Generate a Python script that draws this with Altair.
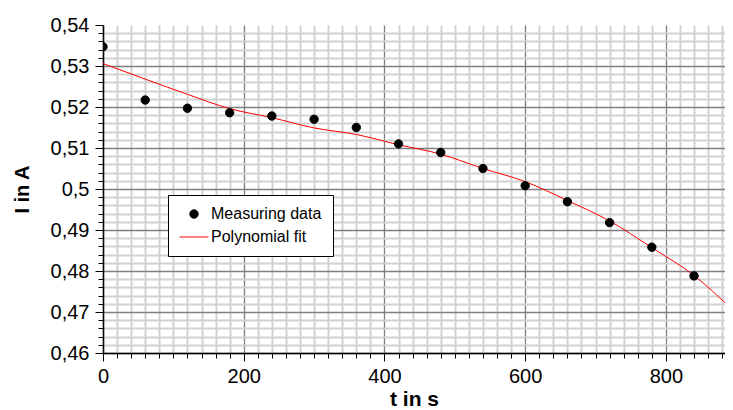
import altair as alt
import pandas as pd

# Measured values
t_meas = [0, 60, 120, 180, 240, 300, 360, 420, 480, 540, 600, 660, 720, 780, 840]
i_meas = [0.5347, 0.5217, 0.5197, 0.5186, 0.5178, 0.5170, 0.5150, 0.5110,
          0.5089, 0.5050, 0.5008, 0.4969, 0.4918, 0.4858, 0.4788]

# Polynomial fit curve
t_fit = [0, 60, 120, 180, 240, 300, 360, 420, 480, 540, 600, 660, 720, 780, 840, 896]
i_fit = [0.5306, 0.5268, 0.5231, 0.5196, 0.5174, 0.5149, 0.5133, 0.5108,
         0.5085, 0.5050, 0.5018, 0.4972, 0.4922, 0.4857, 0.4789, 0.4703]

series_names = ["Measuring data", "Polynomial fit"]
series_colors = ["black", "red"]

# tick positions (minor + major)
x_ticks = list(range(0, 900, 20))
y_ticks = [round(0.46 + k * 0.002, 3) for k in range(41)]

meas = pd.DataFrame({"t": t_meas, "I": i_meas, "series": series_names[0]})
fit = pd.DataFrame({"t": t_fit, "I": i_fit})

FONT = "Liberation Sans"
x_major = "datum.value % 200 === 0"
y_major = "abs(datum.value*100 - round(datum.value*100)) < 1e-6"

x_axis = alt.Axis(
    values=x_ticks, title="t in s", grid=True,
    gridColor={"condition": {"test": x_major, "value": "#7f7f7f"}, "value": "#d2d2d2"},
    gridWidth={"condition": {"test": x_major, "value": 1.3}, "value": 2},
    tickSize={"condition": {"test": x_major, "value": 8}, "value": 5},
    labelExpr=f"{x_major} ? toString(datum.value) : ''",
    labelOverlap=False, labelFlush=False,
    labelFont=FONT, labelFontSize=20, labelColor="black", labelPadding=5,
    titleFont=FONT, titleFontSize=21, titleFontWeight="bold", titleColor="black",
    titlePadding=2,
    domainColor="black", domainWidth=1.5, tickColor="black", tickWidth=1,
)
y_axis = alt.Axis(
    values=y_ticks, title="I in A", grid=True,
    gridColor={"condition": {"test": y_major, "value": "#7f7f7f"}, "value": "#d2d2d2"},
    gridWidth={"condition": {"test": y_major, "value": 1.3}, "value": 2},
    gridOpacity={"condition": {"test": "datum.value > 0.5395", "value": 0}, "value": 1},
    tickSize={"condition": {"test": y_major, "value": 8}, "value": 5},
    labelExpr=f"{y_major} ? replace(toString(round(datum.value*100)/100), '.', ',') : ''",
    labelOverlap=False, labelFlush=False,
    labelFont=FONT, labelFontSize=20, labelColor="black", labelPadding=6,
    titleFont=FONT, titleFontSize=20, titleFontWeight="bold", titleColor="black",
    titlePadding=18,
    domainColor="black", domainWidth=1.5, tickColor="black", tickWidth=1,
)

x_scale = alt.Scale(domain=[0, 884], nice=False, zero=False)
y_scale = alt.Scale(domain=[0.46, 0.54], nice=False, zero=False)

x_enc = alt.X("t:Q", scale=x_scale, axis=x_axis)
y_enc = alt.Y("I:Q", scale=y_scale, axis=y_axis)

legend = alt.Legend(
    title=None, orient="none", legendX=65, legendY=170,
    labelFont=FONT, labelFontSize=16, labelColor="black", labelOffset=2,
    strokeColor="black", fillColor="white", padding=11, rowPadding=-3,
    symbolStrokeWidth=1,
)

line = alt.Chart(fit).mark_line(color="red", strokeWidth=1, interpolate="monotone", clip=True).encode(
    x=x_enc, y=y_enc
)

points = alt.Chart(meas).mark_point(filled=True, opacity=1, strokeWidth=1, clip=True).encode(
    x=x_enc, y=y_enc,
    fill=alt.Fill("series:N", scale=alt.Scale(domain=series_names, range=series_colors), legend=legend),
    stroke=alt.Stroke("series:N", scale=alt.Scale(domain=series_names, range=series_colors), legend=legend),
    shape=alt.Shape("series:N", scale=alt.Scale(domain=series_names, range=["circle", "stroke"]), legend=legend),
    size=alt.Size("series:N", scale=alt.Scale(domain=series_names, range=[70, 841]), legend=legend),
)

chart = alt.layer(line, points).properties(
    width=622, height=328,
    padding={"left": 95, "top": 17, "right": 0, "bottom": 64},
    autosize=alt.AutoSizeParams(type="none"),
).configure_view(stroke=None)

chart.save("out.html", embed_options={"renderer": "svg", "actions": False})
